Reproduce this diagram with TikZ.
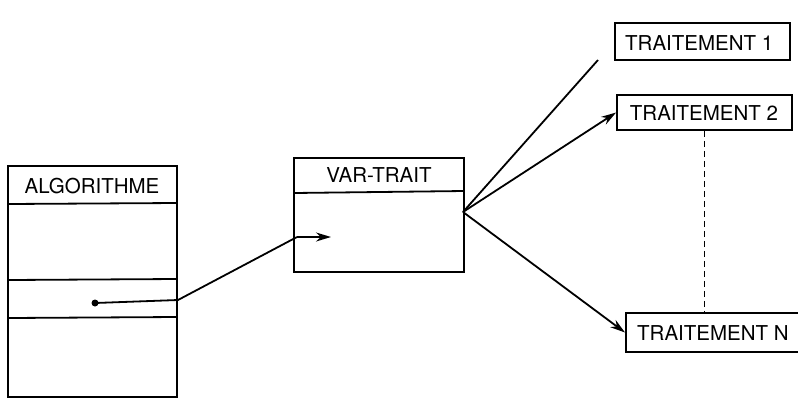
\documentclass[tikz,border=0pt]{standalone}
\usepackage{fontspec}
\setmainfont{TeX Gyre Heros}
\usetikzlibrary{arrows.meta}
\begin{document}
\begin{tikzpicture}[x=1pt,y=-1pt,
  box/.style={draw, line width=1.8pt, inner sep=0pt},
  lbl/.style={font=\fontsize{20.5}{24}\selectfont, inner sep=0pt},
  ln/.style={line width=1.8pt},
  arr/.style={ln, -{Stealth[length=15pt,width=9pt]}}]
\useasboundingbox (0,0) rectangle (798,400);
\clip (0,0) rectangle (798,400);
% ALGORITHME
\node[box, minimum width=169pt, minimum height=231pt] (alg) at (92.5,281.5) {};
\node[lbl] (algt) at (92,186) {ALGORITHME};
\draw[ln] (8,204) -- (177,203);
\draw[ln] (9,280) -- (177,279);
\draw[ln] (9,318) -- (177,317);
\fill (95,303) circle (3.5pt);
\coordinate (dot) at (95,303);
\coordinate (bend1) at (178,300);
\coordinate (bend2) at (297,237);
\coordinate (varin) at (331,237);
% VAR-TRAIT
\node[box, minimum width=170pt, minimum height=114pt] (var) at (379,215) {};
\node[lbl] (vart) at (379,175) {VAR-TRAIT};
\draw[ln] (294,193) -- (464,191);
\coordinate (fan) at (463,212);
% TRAITEMENTS
\node[box, minimum width=175pt, minimum height=37pt] (t1) at (702.5,41.5) {};
\node[lbl, anchor=west] (t1t) at (625,43) {TRAITEMENT 1};
\node[box, minimum width=175pt, minimum height=35pt] (t2) at (704.5,112.5) {};
\node[lbl] (t2t) at (704,113) {TRAITEMENT 2};
\node[box, anchor=west, minimum height=39pt, minimum width=180pt] (tn) at (625,332.5) {};
\node[lbl, anchor=west] (tnt) at (637,333) {TRAITEMENT N};
\coordinate (t1end) at (598,60);
% connectors
\draw[ln] (dot) -- (bend1) -- (bend2);
\draw[arr] (bend2) -- (varin);
\draw[ln] (fan) -- (t1end);
\draw[arr] (fan) -- (t2.west);
\draw[arr] (fan) -- (tn.west);
\draw[ln, dash pattern=on 6pt off 4pt] (t2.south) -- (t2.south |- tn.north);
\end{tikzpicture}
\end{document}
